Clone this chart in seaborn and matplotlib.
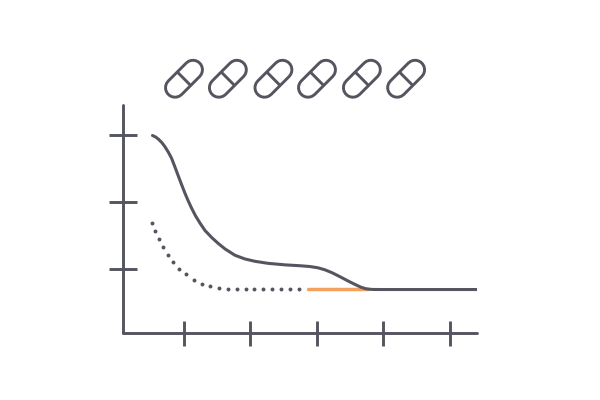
import seaborn as sns
import matplotlib
matplotlib.use("Agg")
import matplotlib.pyplot as plt

# curva continua
curva_x = [0.526, 0.571, 0.617, 0.669, 0.714, 0.767, 0.815, 0.865, 0.914, 0.962, 1.015, 1.06, 1.116, 1.173,
           1.241, 1.316, 1.417, 1.511, 1.617, 1.767, 1.917, 2.068, 2.263, 2.519, 2.744, 2.895, 3.015, 3.12,
           3.226, 3.346, 3.466, 3.571, 3.662, 3.737, 3.827, 3.947, 5.40]
curva_y = [2.993, 2.972, 2.937, 2.885, 2.825, 2.74, 2.65, 2.52, 2.39, 2.265, 2.13, 2.025, 1.905, 1.795,
           1.685, 1.575, 1.47, 1.385, 1.30, 1.205, 1.15, 1.115, 1.085, 1.062, 1.049, 1.037, 1.018, 0.988,
           0.945, 0.885, 0.822, 0.77, 0.728, 0.705, 0.695, 0.694, 0.694]

# curva punteada
puntos_x = [0.514, 0.564, 0.624, 0.684, 0.755, 0.84, 0.93, 1.03, 1.15, 1.27, 1.39, 1.53, 1.66, 1.79,
            1.93, 2.06, 2.19, 2.33, 2.46, 2.60, 2.73]
puntos_y = [1.69, 1.57, 1.45, 1.33, 1.21, 1.10, 1.00, 0.92, 0.84, 0.78, 0.74, 0.72, 0.70, 0.70,
            0.70, 0.70, 0.70, 0.70, 0.70, 0.70, 0.70]

# tramo naranja
naranja_x = [2.86, 3.77]
naranja_y = [0.70, 0.70]

# pastillas
pastillas_x = [1.0, 1.66, 2.345, 3.0, 3.675, 4.34]
pastilla_y = 3.84

xticks = [1, 2, 3, 4, 5]
yticks = [1, 2, 3]

gris = "#54555f"
naranja = "#f3a35f"

sns.set_style("white")
fig = plt.figure(figsize=(6, 4), dpi=100)
ax = fig.add_axes([123 / 600, 67 / 400, 354 / 600, 228 / 400])

sns.lineplot(x=naranja_x, y=naranja_y, color=naranja, linewidth=2.5, ax=ax,
             solid_capstyle="round", zorder=2)
sns.lineplot(x=curva_x, y=curva_y, color=gris, linewidth=2.2, ax=ax, sort=False,
             solid_capstyle="round", solid_joinstyle="round", zorder=3)
sns.scatterplot(x=puntos_x, y=puntos_y, color=gris, s=8, linewidth=0, ax=ax, zorder=3)

# cada pastilla es una linea gruesa con otra blanca encima
for px in pastillas_x:
    ax.plot([px - 0.135, px + 0.135], [pastilla_y - 0.134, pastilla_y + 0.134], color=gris,
            lw=15.8, solid_capstyle="round", clip_on=False)
    ax.plot([px - 0.135, px + 0.135], [pastilla_y - 0.134, pastilla_y + 0.134], color="white",
            lw=11.6, solid_capstyle="round", clip_on=False)
    ax.plot([px - 0.1, px + 0.1], [pastilla_y + 0.1, pastilla_y - 0.1], color=gris,
            lw=2.1, solid_capstyle="butt", clip_on=False)

ax.set_xlim(0.083, 5.406)
ax.set_ylim(0.045, 3.448)
ax.set_xticks(xticks)
ax.set_yticks(yticks)
ax.set_xticklabels([])
ax.set_yticklabels([])
ax.tick_params(axis="x", direction="inout", length=18, width=2.1, color=gris, bottom=True)
ax.tick_params(axis="y", direction="inout", length=19.5, width=2.1, color=gris, left=True)
# sin ajuste al pixel, las marcas caen donde deben
for t in ax.xaxis.get_major_ticks() + ax.yaxis.get_major_ticks():
    t.tick1line.set_snap(False)

sns.despine(ax=ax)
for lado in ["left", "bottom"]:
    ax.spines[lado].set_color(gris)
    ax.spines[lado].set_linewidth(2.1)
    ax.spines[lado].set_capstyle("round")
ax.patch.set_alpha(0)

fig.savefig("out.png", dpi=100)
